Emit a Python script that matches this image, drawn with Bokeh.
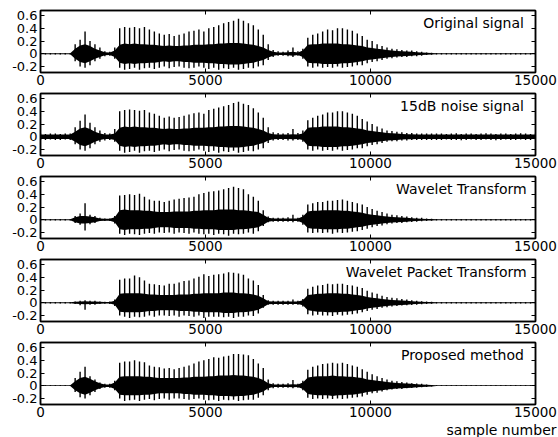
from bokeh.plotting import figure
from bokeh.models import FixedTicker, LinearAxis, Title
from bokeh.layouts import column
from bokeh.core.properties import value
from bokeh.embed import file_html
from bokeh.resources import INLINE

# sample positions of the envelope readings (every 150 samples)
samples = list(range(0, 15001, 150))

x_ticks = [0, 5000, 10000, 15000]
y_ticks = [-0.2, 0, 0.2, 0.4, 0.6]
y_tick_labels = {-0.2: "-0.2", 0: "0", 0.2: "0.2", 0.4: "0.4", 0.6: "0.6"}

panel_labels = ["Original signal", "15dB noise signal", "Wavelet Transform",
                "Wavelet Packet Transform", "Proposed method"]
x_label = "sample number"

# ---- Original signal: spike tops, spike bottoms, dense core half-height
up_orig = [0.01]*7 + [0.15, 0.22, 0.35, 0.2, 0.15, 0.1] + [0.04, 0.03, 0.1] + \
    [0.4, 0.42, 0.41, 0.42, 0.4, 0.42, 0.38, 0.35] + [0.32, 0.3, 0.31, 0.28, 0.3, 0.32] + \
    [0.35, 0.36, 0.38, 0.35, 0.4, 0.42] + [0.45, 0.48, 0.5, 0.52, 0.55] + \
    [0.52, 0.48, 0.45, 0.38, 0.3] + [0.15, 0.06] + [0.04, 0.03, 0.05, 0.1, 0.04] + \
    [0.08, 0.25, 0.3, 0.32, 0.35, 0.38, 0.37, 0.4, 0.4, 0.38, 0.36, 0.32, 0.28] + \
    [0.22, 0.2, 0.15, 0.12, 0.1] + [0.08, 0.07, 0.06, 0.05, 0.05, 0.04, 0.03, 0.02, 0.015, 0.01] + [0.01]*20
lo_orig = [-0.01]*7 + [-0.12, -0.2, -0.22, -0.18, -0.12, -0.08] + [-0.04, -0.03, -0.08] + \
    [-0.22, -0.25, -0.24, -0.22, -0.25, -0.23, -0.22, -0.24] + [-0.22, -0.2, -0.23, -0.21, -0.2, -0.22] + \
    [-0.23, -0.22, -0.2, -0.22, -0.24, -0.22] + [-0.25, -0.23, -0.24, -0.22, -0.25] + \
    [-0.24, -0.22, -0.23, -0.2, -0.18] + [-0.1, -0.05] + [-0.03, -0.03, -0.04, -0.05, -0.03] + \
    [-0.08, -0.2, -0.22, -0.2, -0.22, -0.21, -0.22, -0.2, -0.22, -0.21, -0.2, -0.18, -0.18] + \
    [-0.15, -0.13, -0.12, -0.1, -0.08] + [-0.07, -0.06, -0.05, -0.05, -0.04, -0.04, -0.03, -0.02, -0.015, -0.01] + [-0.01]*20
core_orig = [0.008]*7 + [0.08, 0.13, 0.15, 0.12, 0.08, 0.05] + [0.025, 0.02, 0.05] + \
    [0.14, 0.16, 0.15, 0.16, 0.15, 0.15, 0.14, 0.14] + [0.13, 0.12, 0.13, 0.12, 0.12, 0.13] + \
    [0.13, 0.14, 0.14, 0.14, 0.15, 0.15] + [0.16, 0.16, 0.17, 0.17, 0.17] + \
    [0.16, 0.15, 0.14, 0.12, 0.1] + [0.06, 0.03] + [0.02, 0.02, 0.025, 0.03, 0.02] + \
    [0.05, 0.14, 0.15, 0.15, 0.16, 0.16, 0.16, 0.16, 0.15, 0.15, 0.14, 0.13, 0.12] + \
    [0.1, 0.09, 0.08, 0.07, 0.06] + [0.05, 0.045, 0.04, 0.035, 0.03, 0.025, 0.02, 0.015, 0.01, 0.008] + [0.008]*20

# ---- 15dB noise signal
up_noise = [0.05, 0.045, 0.05, 0.05, 0.045, 0.05, 0.05] + [0.15, 0.25, 0.35, 0.22, 0.15, 0.1] + [0.06, 0.05, 0.12] + \
    [0.4, 0.42, 0.43, 0.42, 0.41, 0.42, 0.38, 0.36] + [0.33, 0.3, 0.32, 0.3, 0.31, 0.33] + \
    [0.35, 0.37, 0.38, 0.36, 0.42, 0.44] + [0.46, 0.48, 0.5, 0.53, 0.55] + \
    [0.52, 0.5, 0.45, 0.38, 0.3] + [0.15, 0.07] + [0.06, 0.05, 0.06, 0.12, 0.06] + \
    [0.1, 0.26, 0.3, 0.33, 0.35, 0.38, 0.38, 0.4, 0.4, 0.38, 0.36, 0.33, 0.28] + \
    [0.24, 0.2, 0.16, 0.13, 0.1] + [0.09, 0.08, 0.07, 0.06, 0.06, 0.05, 0.05, 0.05, 0.05, 0.05] + \
    [0.05, 0.045, 0.05, 0.055, 0.045, 0.05, 0.05, 0.045, 0.05, 0.055, 0.05, 0.045, 0.05, 0.05, 0.045, 0.05, 0.055, 0.05, 0.045, 0.05]
lo_noise = [-0.05, -0.05, -0.045, -0.05, -0.05, -0.045, -0.05] + [-0.12, -0.2, -0.22, -0.18, -0.12, -0.08] + [-0.06, -0.05, -0.08] + \
    [-0.22, -0.25, -0.24, -0.22, -0.25, -0.23, -0.22, -0.24] + [-0.22, -0.2, -0.23, -0.21, -0.2, -0.22] + \
    [-0.23, -0.22, -0.2, -0.22, -0.24, -0.22] + [-0.25, -0.23, -0.24, -0.22, -0.25] + \
    [-0.24, -0.22, -0.23, -0.2, -0.18] + [-0.1, -0.06] + [-0.05, -0.05, -0.06, -0.06, -0.05] + \
    [-0.08, -0.2, -0.22, -0.2, -0.22, -0.21, -0.22, -0.2, -0.22, -0.21, -0.2, -0.18, -0.18] + \
    [-0.15, -0.13, -0.12, -0.1, -0.08] + [-0.07, -0.07, -0.06, -0.06, -0.05, -0.05, -0.05, -0.05, -0.05, -0.05] + \
    [-0.05, -0.045, -0.05, -0.05, -0.055, -0.05, -0.045, -0.05, -0.05, -0.045, -0.05, -0.055, -0.05, -0.045, -0.05, -0.05, -0.045, -0.05, -0.05, -0.045]
core_noise = [0.035]*7 + [0.08, 0.13, 0.15, 0.12, 0.08, 0.05] + [0.035, 0.035, 0.05] + \
    [0.14, 0.16, 0.15, 0.16, 0.15, 0.15, 0.14, 0.14] + [0.13, 0.12, 0.13, 0.12, 0.12, 0.13] + \
    [0.13, 0.14, 0.14, 0.14, 0.15, 0.15] + [0.16, 0.16, 0.17, 0.17, 0.17] + \
    [0.16, 0.15, 0.14, 0.12, 0.1] + [0.06, 0.04] + [0.035, 0.035, 0.035, 0.04, 0.035] + \
    [0.05, 0.14, 0.15, 0.15, 0.16, 0.16, 0.16, 0.16, 0.15, 0.15, 0.14, 0.13, 0.12] + \
    [0.1, 0.09, 0.08, 0.07, 0.06] + [0.055, 0.05, 0.045, 0.04, 0.04, 0.035, 0.035, 0.035, 0.035, 0.035] + [0.035]*20

# ---- Wavelet Transform
up_wt = [0.012]*7 + [0.06, 0.1, 0.26, 0.08, 0.06, 0.03] + [0.02, 0.02, 0.06] + \
    [0.38, 0.39, 0.4, 0.39, 0.41, 0.36, 0.32, 0.3] + [0.3, 0.28, 0.3, 0.32, 0.33, 0.34] + \
    [0.35, 0.36, 0.4, 0.42, 0.44, 0.45] + [0.46, 0.48, 0.5, 0.52, 0.5] + \
    [0.48, 0.4, 0.36, 0.3, 0.15] + [0.05, 0.03] + [0.03, 0.03, 0.04, 0.08, 0.03] + \
    [0.08, 0.24, 0.26, 0.28, 0.28, 0.3, 0.3, 0.31, 0.32, 0.3, 0.28, 0.26, 0.24] + \
    [0.2, 0.17, 0.14, 0.12, 0.1] + [0.08, 0.07, 0.06, 0.05, 0.04, 0.03, 0.03, 0.02, 0.015, 0.012] + [0.012]*20
lo_wt = [-0.012]*7 + [-0.05, -0.08, -0.17, -0.07, -0.05, -0.02] + [-0.02, -0.02, -0.06] + \
    [-0.22, -0.24, -0.22, -0.23, -0.24, -0.22, -0.21, -0.22] + [-0.2, -0.21, -0.2, -0.22, -0.2, -0.21] + \
    [-0.22, -0.2, -0.22, -0.23, -0.22, -0.24] + [-0.22, -0.23, -0.25, -0.22, -0.23] + \
    [-0.22, -0.2, -0.22, -0.18, -0.1] + [-0.04, -0.03] + [-0.03, -0.03, -0.03, -0.04, -0.03] + \
    [-0.08, -0.2, -0.21, -0.2, -0.21, -0.2, -0.22, -0.2, -0.21, -0.2, -0.19, -0.18, -0.16] + \
    [-0.14, -0.12, -0.1, -0.09, -0.07] + [-0.06, -0.05, -0.05, -0.04, -0.035, -0.03, -0.025, -0.02, -0.015, -0.012] + [-0.012]*20
core_wt = [0.008]*7 + [0.04, 0.06, 0.06, 0.05, 0.04, 0.02] + [0.015, 0.015, 0.04] + \
    [0.15, 0.16, 0.15, 0.15, 0.15, 0.14, 0.14, 0.13] + [0.12, 0.12, 0.12, 0.13, 0.13, 0.13] + \
    [0.13, 0.14, 0.14, 0.15, 0.15, 0.15] + [0.16, 0.16, 0.16, 0.16, 0.15] + \
    [0.15, 0.14, 0.13, 0.12, 0.08] + [0.03, 0.02] + [0.02, 0.02, 0.02, 0.02, 0.02] + \
    [0.05, 0.13, 0.14, 0.14, 0.15, 0.15, 0.15, 0.15, 0.14, 0.14, 0.13, 0.12, 0.11] + \
    [0.09, 0.08, 0.07, 0.06, 0.05] + [0.045, 0.04, 0.035, 0.03, 0.025, 0.02, 0.015, 0.012, 0.01, 0.008] + [0.008]*20

# ---- Wavelet Packet Transform
up_wpt = [0.01]*7 + [0.02, 0.03, 0.04, 0.03, 0.03, 0.02] + [0.015, 0.02, 0.05] + \
    [0.36, 0.38, 0.38, 0.43, 0.4, 0.35, 0.3, 0.29] + [0.28, 0.27, 0.3, 0.3, 0.32, 0.34] + \
    [0.35, 0.38, 0.41, 0.45, 0.42, 0.44] + [0.45, 0.46, 0.48, 0.47, 0.46] + \
    [0.44, 0.38, 0.35, 0.28, 0.12] + [0.04, 0.03] + [0.03, 0.03, 0.03, 0.05, 0.03] + \
    [0.06, 0.22, 0.25, 0.27, 0.28, 0.3, 0.29, 0.3, 0.3, 0.28, 0.27, 0.25, 0.23] + \
    [0.19, 0.16, 0.14, 0.11, 0.09] + [0.08, 0.07, 0.06, 0.05, 0.04, 0.03, 0.025, 0.02, 0.015, 0.01] + [0.01]*20
lo_wpt = [-0.01]*7 + [-0.02, -0.04, -0.11, -0.03, -0.03, -0.02] + [-0.015, -0.02, -0.05] + \
    [-0.2, -0.22, -0.24, -0.22, -0.23, -0.22, -0.2, -0.22] + [-0.2, -0.2, -0.21, -0.2, -0.22, -0.2] + \
    [-0.21, -0.22, -0.2, -0.24, -0.22, -0.22] + [-0.22, -0.23, -0.22, -0.24, -0.22] + \
    [-0.22, -0.2, -0.21, -0.17, -0.08] + [-0.03, -0.03] + [-0.03, -0.03, -0.03, -0.03, -0.03] + \
    [-0.06, -0.18, -0.2, -0.19, -0.2, -0.2, -0.21, -0.19, -0.2, -0.19, -0.18, -0.17, -0.15] + \
    [-0.13, -0.11, -0.1, -0.08, -0.07] + [-0.06, -0.05, -0.045, -0.04, -0.035, -0.03, -0.025, -0.02, -0.015, -0.01] + [-0.01]*20
core_wpt = [0.008]*7 + [0.015, 0.02, 0.025, 0.02, 0.02, 0.015] + [0.012, 0.012, 0.03] + \
    [0.14, 0.15, 0.15, 0.15, 0.15, 0.14, 0.13, 0.13] + [0.12, 0.12, 0.12, 0.12, 0.13, 0.13] + \
    [0.13, 0.14, 0.14, 0.15, 0.15, 0.15] + [0.15, 0.16, 0.16, 0.16, 0.15] + \
    [0.15, 0.14, 0.13, 0.11, 0.07] + [0.025, 0.02] + [0.02, 0.02, 0.02, 0.02, 0.02] + \
    [0.04, 0.12, 0.13, 0.14, 0.14, 0.15, 0.15, 0.15, 0.14, 0.14, 0.13, 0.12, 0.11] + \
    [0.09, 0.08, 0.07, 0.06, 0.05] + [0.045, 0.04, 0.035, 0.03, 0.025, 0.02, 0.015, 0.012, 0.01, 0.008] + [0.008]*20

# ---- Proposed method
up_prop = [0.006]*7 + [0.12, 0.22, 0.3, 0.15, 0.1, 0.05] + [0.03, 0.03, 0.08] + \
    [0.36, 0.38, 0.38, 0.4, 0.38, 0.37, 0.32, 0.3] + [0.29, 0.27, 0.28, 0.26, 0.28, 0.3] + \
    [0.32, 0.35, 0.38, 0.4, 0.42, 0.45] + [0.44, 0.46, 0.47, 0.5, 0.5] + \
    [0.49, 0.48, 0.42, 0.35, 0.28] + [0.1, 0.04] + [0.03, 0.03, 0.04, 0.09, 0.03] + \
    [0.08, 0.25, 0.3, 0.32, 0.34, 0.35, 0.36, 0.35, 0.36, 0.34, 0.32, 0.3, 0.26] + \
    [0.22, 0.18, 0.15, 0.12, 0.1] + [0.08, 0.07, 0.06, 0.05, 0.04, 0.035, 0.03, 0.02, 0.01, 0.006] + [0.006]*20
lo_prop = [-0.006]*7 + [-0.1, -0.18, -0.2, -0.15, -0.1, -0.05] + [-0.03, -0.03, -0.07] + \
    [-0.2, -0.24, -0.23, -0.22, -0.24, -0.22, -0.21, -0.23] + [-0.21, -0.2, -0.22, -0.2, -0.2, -0.21] + \
    [-0.22, -0.21, -0.2, -0.22, -0.23, -0.22] + [-0.24, -0.22, -0.23, -0.22, -0.24] + \
    [-0.23, -0.22, -0.22, -0.19, -0.15] + [-0.07, -0.04] + [-0.03, -0.03, -0.03, -0.04, -0.03] + \
    [-0.07, -0.19, -0.21, -0.2, -0.21, -0.2, -0.21, -0.2, -0.21, -0.2, -0.19, -0.18, -0.17] + \
    [-0.14, -0.12, -0.11, -0.09, -0.07] + [-0.06, -0.05, -0.05, -0.04, -0.035, -0.03, -0.025, -0.02, -0.01, -0.006] + [-0.006]*20
core_prop = [0.006]*7 + [0.07, 0.12, 0.14, 0.11, 0.07, 0.04] + [0.02, 0.02, 0.05] + \
    [0.14, 0.15, 0.15, 0.15, 0.15, 0.14, 0.14, 0.13] + [0.12, 0.12, 0.12, 0.12, 0.12, 0.13] + \
    [0.13, 0.14, 0.14, 0.14, 0.15, 0.15] + [0.16, 0.16, 0.16, 0.17, 0.16] + \
    [0.16, 0.15, 0.14, 0.12, 0.09] + [0.04, 0.02] + [0.02, 0.02, 0.02, 0.025, 0.02] + \
    [0.05, 0.13, 0.14, 0.15, 0.15, 0.15, 0.16, 0.15, 0.15, 0.14, 0.14, 0.13, 0.12] + \
    [0.1, 0.09, 0.08, 0.07, 0.06] + [0.05, 0.045, 0.04, 0.035, 0.03, 0.025, 0.02, 0.015, 0.01, 0.006] + [0.006]*20

panels = [
    (up_orig, lo_orig, core_orig, 14650),
    (up_noise, lo_noise, core_noise, 14650),
    (up_wt, lo_wt, core_wt, 14730),
    (up_wpt, lo_wpt, core_wpt, 14730),
    (up_prop, lo_prop, core_prop, 14650),
]

FONT = "DejaVu Sans"


def style_axis(ax, labels, ticks):
    ax.axis_line_color = "black"
    ax.axis_line_width = 1.5
    ax.major_tick_line_color = "black"
    ax.major_tick_line_width = 1
    ax.major_tick_in = 4
    ax.major_tick_out = 0
    ax.minor_tick_line_color = None
    if not labels:
        ax.major_label_overrides = {t: "" for t in ticks}
        ax.major_label_text_font_size = "1px"
        ax.major_label_standoff = 0


figs = []
for k, (up, lo, core, lx) in enumerate(panels):
    first = k == 0
    last = k == len(panels) - 1
    top = 10 if first else 3
    bottom = 33 if last else 18
    p = figure(width=558, height=top + 62 + bottom,
               x_range=(0, 15000), y_range=(-0.295, 0.68),
               output_backend="svg", toolbar_location=None,
               min_border_left=40, min_border_right=23,
               min_border_top=top, min_border_bottom=bottom)
    p.xgrid.visible = False
    p.ygrid.visible = False
    p.outline_line_color = "black"
    p.outline_line_width = 1.5
    p.background_fill_color = "white"
    p.border_fill_color = "white"

    p.xaxis.ticker = FixedTicker(ticks=x_ticks)
    p.yaxis.ticker = FixedTicker(ticks=y_ticks)
    p.yaxis.major_label_overrides = y_tick_labels
    style_axis(p.xaxis[0], True, x_ticks)
    style_axis(p.yaxis[0], True, y_ticks)
    p.xaxis.major_label_text_font = FONT
    p.xaxis.major_label_text_font_size = "13.5px"
    p.xaxis.major_label_text_color = "black"
    p.xaxis.major_label_standoff = 2
    p.yaxis.major_label_text_font = FONT
    p.yaxis.major_label_text_font_size = "13px"
    p.yaxis.major_label_text_color = "black"
    p.yaxis.major_label_standoff = 3

    ax_top = LinearAxis(ticker=FixedTicker(ticks=x_ticks))
    style_axis(ax_top, False, x_ticks)
    p.add_layout(ax_top, "above")
    ax_right = LinearAxis(ticker=FixedTicker(ticks=y_ticks))
    style_axis(ax_right, False, y_ticks)
    p.add_layout(ax_right, "right")

    p.varea(x=samples, y1=[-c for c in core], y2=core, fill_color="black")
    p.segment(x0=samples, y0=lo, x1=samples, y1=up, line_color="black", line_width=1.4)

    p.text(x=[lx], y=[0.615], text=[panel_labels[k]], text_font=value(FONT),
           text_font_size="14px", text_align="right", text_baseline="top",
           text_color="black")

    if last:
        t = Title(text=x_label, align="right", offset=-21, standoff=0,
                  text_font=FONT, text_font_size="14px", text_font_style="normal",
                  text_color="black")
        p.add_layout(t, "below")
    figs.append(p)

layout = column(*figs, spacing=0)
open("out.html", "w").write(file_html(layout, INLINE))
